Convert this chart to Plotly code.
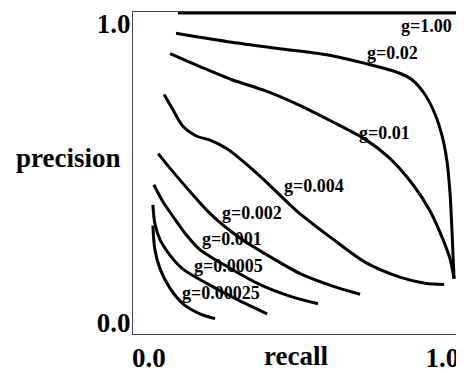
import plotly.graph_objects as go

# ---- data ----
g_labels = ["g=1.00", "g=0.02", "g=0.01", "g=0.004", "g=0.002", "g=0.001", "g=0.0005", "g=0.00025"]

recall_g100 = [0.136, 1.0]
prec_g100 = [1.0, 1.0]

recall_g002 = [0.130, 0.299, 0.450, 0.601, 0.701, 0.804, 0.843, 0.882, 0.912, 0.934, 0.949, 0.958, 0.964, 0.970]
prec_g002 = [0.937, 0.909, 0.888, 0.867, 0.843, 0.813, 0.792, 0.746, 0.686, 0.616, 0.535, 0.435, 0.314, 0.172]

recall_g001 = [0.112, 0.202, 0.299, 0.399, 0.502, 0.601, 0.701, 0.776, 0.846, 0.897, 0.937, 0.958, 0.970]
prec_g001 = [0.873, 0.833, 0.792, 0.758, 0.713, 0.662, 0.607, 0.547, 0.465, 0.384, 0.293, 0.233, 0.172]

recall_g0004 = [0.094, 0.121, 0.151, 0.193, 0.233, 0.284, 0.353, 0.399, 0.495, 0.601, 0.701, 0.804, 0.882, 0.940]
prec_g0004 = [0.746, 0.698, 0.647, 0.616, 0.604, 0.577, 0.520, 0.477, 0.383, 0.298, 0.224, 0.178, 0.158, 0.154]

recall_g0002 = [0.076, 0.121, 0.172, 0.233, 0.323, 0.399, 0.505, 0.601, 0.686]
prec_g0002 = [0.562, 0.505, 0.444, 0.375, 0.299, 0.250, 0.188, 0.150, 0.124]

recall_g0001 = [0.063, 0.091, 0.121, 0.157, 0.202, 0.293, 0.384, 0.474, 0.559]
prec_g0001 = [0.465, 0.411, 0.366, 0.314, 0.263, 0.205, 0.154, 0.118, 0.094]

recall_g00005 = [0.060, 0.066, 0.082, 0.112, 0.151, 0.224, 0.323, 0.405]
prec_g00005 = [0.402, 0.344, 0.293, 0.245, 0.202, 0.157, 0.103, 0.063]

recall_g000025 = [0.060, 0.066, 0.082, 0.112, 0.151, 0.202, 0.248]
prec_g000025 = [0.338, 0.263, 0.202, 0.142, 0.094, 0.063, 0.048]

x_tick_text = ["0.0", "1.0"]
y_tick_text = ["0.0", "1.0"]

series = [
    (recall_g100, prec_g100),
    (recall_g002, prec_g002),
    (recall_g001, prec_g001),
    (recall_g0004, prec_g0004),
    (recall_g0002, prec_g0002),
    (recall_g0001, prec_g0001),
    (recall_g00005, prec_g00005),
    (recall_g000025, prec_g000025),
]

# label placement (layout, in axis units)
label_pos = [
    (0.888, 0.958), (0.785, 0.876), (0.761, 0.625), (0.547, 0.462),
    (0.360, 0.378), (0.299, 0.296), (0.287, 0.211), (0.266, 0.127),
]

FONT = "Liberation Serif, Times New Roman, serif"

fig = go.Figure()
for (rx, py), name in zip(series, g_labels):
    fig.add_trace(go.Scatter(
        x=rx, y=py, mode="lines", name=name,
        line=dict(color="black", width=3, shape="spline", smoothing=0.8),
        showlegend=False, hoverinfo="skip",
    ))

annotations = []
for (lx, ly), name in zip(label_pos, g_labels):
    annotations.append(dict(
        x=lx, y=ly, xref="x", yref="y", text="<b>" + name + "</b>",
        showarrow=False, xanchor="center", yanchor="middle",
        font=dict(family=FONT, size=18, color="black"),
    ))

annotations.append(dict(
    x=-0.196, y=0.548, xref="paper", yref="paper", text="<b>precision</b>",
    showarrow=False, xanchor="center", yanchor="middle",
    font=dict(family=FONT, size=27, color="black"),
))
annotations.append(dict(
    x=0.492, y=-0.015, xref="paper", yref="paper", text="<b>recall</b>",
    showarrow=False, xanchor="center", yanchor="top",
    font=dict(family=FONT, size=27, color="black"),
))

# page body adds an 8px offset, so the figure is 8px smaller and margins shifted
fig.update_layout(
    width=456, height=365,
    margin=dict(l=125, r=0, t=4, b=29),
    paper_bgcolor="white", plot_bgcolor="white",
    annotations=annotations,
    xaxis=dict(
        range=[0, 1], showgrid=False, zeroline=False,
        showline=True, linecolor="#444", linewidth=1, mirror=True,
        tickmode="array", tickvals=[0.048, 0.935], ticktext=["<b>%s</b>" % t for t in x_tick_text],
        ticks="", tickfont=dict(family=FONT, size=27, color="black"),
    ),
    yaxis=dict(
        range=[0, 1.003], showgrid=False, zeroline=False,
        showline=True, linecolor="#444", linewidth=1, mirror=False,
        tickmode="array", tickvals=[0.036, 0.968], ticktext=["<b>%s</b>" % t for t in y_tick_text],
        ticks="", ticklabelstandoff=-4, tickfont=dict(family=FONT, size=27, color="black"),
    ),
)

fig.write_html("out.html")
